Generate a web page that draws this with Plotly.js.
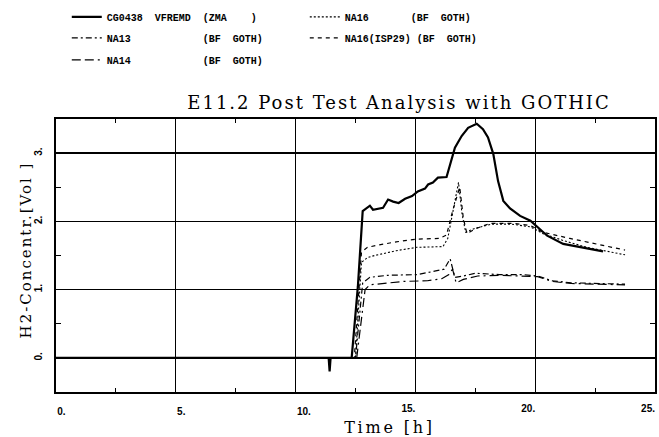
<!DOCTYPE html>
<html><head><meta charset="utf-8">
<script src="https://cdn.plot.ly/plotly-3.0.1.min.js"></script>
<style>
html,body{margin:0;padding:0;background:#fff}
#chart{width:659px;height:437px}
.gtitle{letter-spacing:2px}
.xtitle{letter-spacing:2.8px}
.ytitle{letter-spacing:2px}
</style></head><body><div id="chart"></div><script>
// ---- data ----
var seriesNames = ["CG0438\u00a0\u00a0VFREMD\u00a0\u00a0(ZMA\u00a0\u00a0\u00a0\u00a0)",
  "NA13\u00a0\u00a0\u00a0\u00a0\u00a0\u00a0\u00a0\u00a0\u00a0\u00a0\u00a0\u00a0(BF\u00a0\u00a0GOTH)",
  "NA14\u00a0\u00a0\u00a0\u00a0\u00a0\u00a0\u00a0\u00a0\u00a0\u00a0\u00a0\u00a0(BF\u00a0\u00a0GOTH)",
  "NA16\u00a0\u00a0\u00a0\u00a0\u00a0\u00a0\u00a0(BF\u00a0\u00a0GOTH)",
  "NA16(ISP29)\u00a0(BF\u00a0\u00a0GOTH)"];

var tCG = [0, 11.38, 11.42, 11.46, 12.34, 12.6, 12.8, 13.1, 13.23, 13.65, 13.86, 14.07, 14.3, 14.57, 14.86, 15.1, 15.4, 15.53, 15.73, 15.94, 16.3, 16.5, 16.65, 16.93, 17.2, 17.56, 17.82, 18.03, 18.25, 18.45, 18.6, 18.67, 18.95, 19.37, 19.8, 20.06, 20.5, 21.17, 21.87, 22.83];
var vCG = [0, 0, -0.2, 0, 0, 1.05, 2.15, 2.23, 2.17, 2.2, 2.32, 2.29, 2.27, 2.33, 2.37, 2.44, 2.48, 2.54, 2.57, 2.64, 2.65, 2.89, 3.08, 3.25, 3.37, 3.43, 3.35, 3.23, 2.99, 2.59, 2.37, 2.3, 2.19, 2.08, 2.01, 1.93, 1.79, 1.67, 1.62, 1.56];

var tNA13 = [0, 12.5, 12.8, 13.1, 13.86, 15.06, 15.8, 16.2, 16.45, 16.65, 17.0, 17.5, 18.5, 19.5, 20.1, 20.7, 21.5, 23.75];
var vNA13 = [0, 0, 1.1, 1.18, 1.21, 1.22, 1.27, 1.3, 1.45, 1.18, 1.2, 1.24, 1.22, 1.22, 1.2, 1.13, 1.1, 1.08];

var tNA14 = [0, 12.55, 12.9, 13.1, 14.5, 15.5, 16.1, 16.4, 16.55, 16.7, 17.0, 17.6, 18.5, 19.5, 20.1, 20.7, 21.5, 23.75];
var vNA14 = [0, 0, 1.0, 1.07, 1.12, 1.13, 1.16, 1.22, 1.3, 1.1, 1.15, 1.2, 1.21, 1.2, 1.19, 1.12, 1.09, 1.07];

var tNA16 = [0, 12.5, 12.75, 13.0, 13.3, 14.2, 15.06, 16.15, 16.35, 16.6, 16.8, 16.95, 17.1, 17.5, 18.2, 19.0, 19.8, 20.33, 21.17, 22.15, 23.1, 23.75];
var vNA16 = [0, 0, 1.4, 1.47, 1.5, 1.57, 1.62, 1.63, 1.75, 2.2, 2.57, 2.1, 1.84, 1.9, 1.96, 1.96, 1.92, 1.82, 1.72, 1.62, 1.56, 1.51];

var tISP = [0, 12.45, 12.75, 13.0, 13.4, 14.2, 15.06, 16.0, 16.3, 16.55, 16.85, 17.0, 17.15, 17.5, 18.1, 19.08, 19.8, 20.33, 21.45, 22.57, 23.75];
var vISP = [0, 0, 1.55, 1.62, 1.65, 1.7, 1.74, 1.75, 1.8, 2.15, 2.5, 2.05, 1.82, 1.89, 1.97, 1.97, 1.94, 1.84, 1.75, 1.67, 1.58];

var xTickVals = [0, 5, 10, 15, 20, 25];
var xTickText = ["0.", "5.", "10.", "15.", "20.", "25."];
var yTickVals = [0, 1, 2, 3];
var yTickText = ["0.", "1.", "2.", "3."];

// ---- chart ----
function tr(x, y, name, dash, width, rank, xax) {
  return {x: x, y: y, name: name, type: 'scatter', mode: 'lines', xaxis: xax || 'x',
    line: {color: '#000', dash: dash, width: width}, legendrank: rank, hoverinfo: 'skip'};
}
var data = [
  tr(tNA13, vNA13, seriesNames[1], '6px,3px,2px,3px', 1.2, 3),
  tr(tNA14, vNA14, seriesNames[2], '9px,4px,9px,4px,2px,4px', 1.2, 5),
  tr(tNA16, vNA16, seriesNames[3], '2px,2px', 1.1, 2),
  tr(tISP, vISP, seriesNames[4], '4px,4px', 1.2, 4),
  tr(tCG, vCG, seriesNames[0], 'solid', 2.2, 1, 'x2')
];

// reference: labels below 15 start at their tick, labels from 15 on end at their tick
var split = 15;
var xValsA = xTickVals.filter(function (v) { return v < split; });
var xTextA = xTickText.filter(function (s, i) { return xTickVals[i] < split; });
var xValsB = xTickVals.filter(function (v) { return v >= split; });
var xTextB = xTickText.filter(function (s, i) { return xTickVals[i] >= split; });

var tickFont = {family: 'Liberation Sans', size: 10, weight: 'bold', color: '#000'};
var axisCommon = {
  showgrid: true, gridcolor: '#000', gridwidth: 1.3,
  showline: true, linecolor: '#000', linewidth: 1.6, mirror: 'allticks',
  ticks: 'inside', ticklen: 5, tickcolor: '#000', tickwidth: 1,
  zeroline: false, tickmode: 'array', tickfont: tickFont
};

var layout = {
  width: 659, height: 437,
  margin: {l: 56, r: 4, t: 118, b: 45},
  paper_bgcolor: '#fff', plot_bgcolor: '#fff',
  title: {text: 'E11.2 Post Test Analysis with GOTHIC', xref: 'container', x: 0.6055, xanchor: 'center',
    yref: 'container', y: 0.764, yanchor: 'middle',
    font: {family: 'DejaVu Serif', size: 18, color: '#000'}},
  xaxis: Object.assign({}, axisCommon, {
    range: [0, 25], tickvals: xValsA, ticktext: xTextA, ticklabelstandoff: 9,
    ticklabelposition: 'outside right', ticklabeloverflow: 'allow',
    minor: {dtick: 2.5, tick0: 0, ticks: 'inside', ticklen: 4, tickcolor: '#000', showgrid: false},
    title: {text: 'Time [h]', standoff: 6, font: {family: 'DejaVu Serif', size: 16, color: '#000'}}
  }),
  xaxis2: {overlaying: 'x', anchor: 'y', side: 'bottom', range: [0, 25], tickmode: 'array',
    tickvals: xValsB, ticktext: xTextB, ticklabelposition: 'outside left', ticklabeloverflow: 'allow',
    ticklabelstandoff: 9, showgrid: true, gridcolor: '#000', gridwidth: 1.3,
    showline: false, zeroline: false, ticks: '', tickfont: tickFont},
  yaxis: Object.assign({}, axisCommon, {
    range: [-0.5, 3.5], tickvals: yTickVals, ticktext: yTickText, tickangle: -90, ticklabelstandoff: 8,
    minor: {dtick: 0.5, tick0: 0, ticks: 'inside', ticklen: 4, tickcolor: '#000', showgrid: false},
    title: {text: 'H2-Concentr.[Vol ]', standoff: 0, font: {family: 'DejaVu Serif', size: 15, color: '#000'}}
  }),
  showlegend: true,
  legend: {orientation: 'h', x: 0.018, xanchor: 'left', y: 1.422, yanchor: 'top',
    entrywidth: 193, entrywidthmode: 'pixels', itemwidth: 30, traceorder: 'normal',
    bgcolor: 'rgba(0,0,0,0)', borderwidth: 0,
    font: {family: 'Liberation Mono', size: 10, weight: 'bold', color: '#000'}}
};

// place an axis title so that its box centre lands where the reference has it
function centreAt(sel, cx, cy) {
  var el = document.querySelector(sel);
  if (!el) return;
  var r = el.getBoundingClientRect();
  var dx = cx === null ? 0 : cx - (r.left + r.width / 2);
  var dy = cy === null ? 0 : cy - (r.top + r.height / 2);
  el.setAttribute('transform', 'translate(' + dx.toFixed(1) + ',' + dy.toFixed(1) + ') ' + (el.getAttribute('transform') || ''));
}

Plotly.newPlot('chart', data, layout, {displayModeBar: false, staticPlot: true}).then(function () {
  // the reference legend rows are a little further apart (about 22 px) than Plotly's default
  var extra = [0, 0, 2, 2, 5];
  var items = document.querySelectorAll('#chart .legend .traces');
  items.forEach(function (el, i) { if (extra[i]) el.style.translate = '0 ' + extra[i] + 'px'; });
  // axis titles in the reference are not centred on the axes
  centreAt('#chart .xtitle', 389.5, null);
  centreAt('#chart .ytitle', 26.5, 250);
});
</script></body></html>
